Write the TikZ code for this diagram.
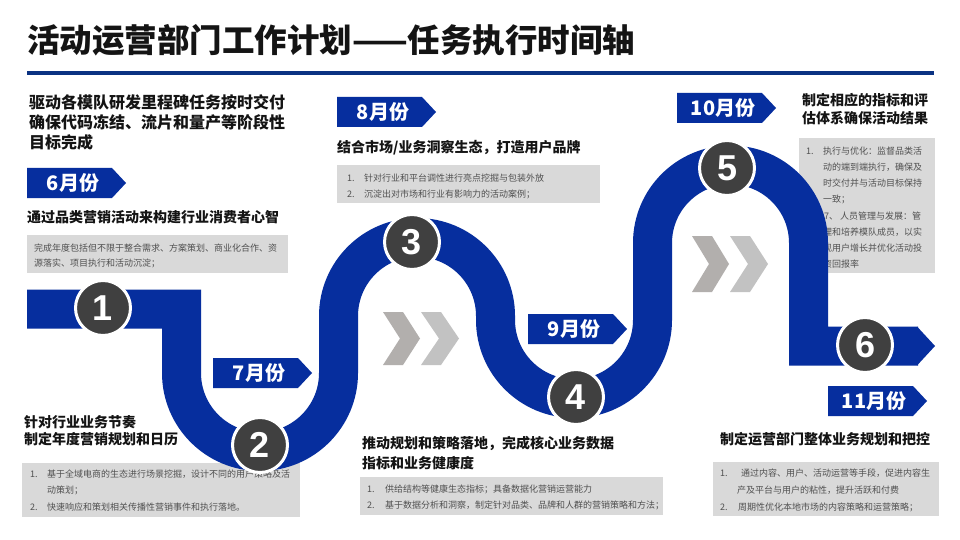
\documentclass[tikz,border=0pt]{standalone}
\usepackage{fontspec}
\setmainfont{Noto Sans CJK SC}
\newfontfamily\numfont{Liberation Sans}
\definecolor{bandc}{RGB}{6,46,158}
\definecolor{linec}{RGB}{10,50,130}
\definecolor{boxg}{RGB}{217,217,217}
\definecolor{boxtc}{RGB}{80,80,80}
\definecolor{headc}{RGB}{20,20,20}
\definecolor{circc}{RGB}{64,64,64}
\definecolor{chevA}{RGB}{178,175,173}
\definecolor{chevB}{RGB}{194,194,194}
\tikzset{
  hd/.style={anchor=base west, inner sep=0pt, text=headc, font=\bfseries\fontsize{14}{14}\selectfont},
  hdbig/.style={hd, font=\bfseries\fontsize{16}{16}\selectfont},
  bx/.style={anchor=base west, inner sep=0pt, text=boxtc, font=\fontsize{9}{9}\selectfont},
  gbox/.style={fill=boxg, draw=none},
  band/.style={draw=bandc, line width=39pt, line join=miter, line cap=butt},
  numc/.style={circle, fill=circc, draw=white, line width=3pt, minimum size=55pt, inner sep=0pt, text=white, font=\numfont\bfseries\fontsize{36}{36}\selectfont},
  mlbl/.style={text=white, inner sep=0pt, font=\bfseries\fontsize{20}{20}\selectfont},
}
\newcommand\monthtag[4]{%
  \begin{scope}[shift={(#2,#3)}]
    \fill[bandc] (0,0) -- (85,0) -- (99,15) -- (85,30) -- (0,30) -- cycle;
    \node[mlbl] (#1) at (46,15) {#4};
  \end{scope}}
\newcommand\chevpair[4]{%
  \begin{scope}[shift={(#1,#2)}]
    \fill[chevA] (0,0) -- (20,0) -- (37,#3) -- (20,#4) -- (0,#4) -- (17,#3) -- cycle;
    \fill[chevB] (38,0) -- (58,0) -- (76,#3) -- (58,#4) -- (38,#4) -- (56,#3) -- cycle;
  \end{scope}}
\begin{document}
\begin{tikzpicture}[x=1pt,y=-1pt]
\useasboundingbox (0,0) rectangle (960,540);
\fill[white] (0,0) rectangle (960,540);
% title
\node[anchor=base west, inner sep=0pt, text=headc, font=\bfseries\fontsize{32.5}{32.5}\selectfont] (title) at (27,52.3) {活动运营部门工作计划——任务执行时间轴};
\fill[linec] (27,71) rectangle (934,75);

% gray boxes
\fill[gbox] (27,235) rectangle (288,273);
\fill[gbox] (337,165) rectangle (600,203);
\fill[gbox] (799,138) rectangle (935,273);
\fill[gbox] (22,463) rectangle (300,517);
\fill[gbox] (360,477) rectangle (663,515);
\fill[gbox] (713,462) rectangle (939,516);

% headings
\node[hdbig] (h0a) at (29,109) {驱动各模队研发里程碑任务按时交付};
\node[hdbig] (h0b) at (29,129) {确保代码冻结、流片和量产等阶段性};
\node[hdbig] (h0c) at (29,149) {目标完成};
\node[hd] (h1) at (27,222) {通过品类营销活动来构建行业消费者心智};
\node[hd] (h3) at (337,153) {结合市场/业务洞察生态，打造用户品牌};
\node[hd] (h5a) at (802,105.3) {制定相应的指标和评};
\node[hd] (h5b) at (802,123.3) {估体系确保活动结果};
\node[hd] (h2a) at (24,427.3) {针对行业业务节奏};
\node[hd] (h2b) at (24,444.3) {制定年度营销规划和日历};
\node[hd] (h4a) at (362,448.3) {推动规划和策略落地，完成核心业务数据};
\node[hd] (h4b) at (362,468.3) {指标和业务健康度};
\node[hd] (h6) at (720,444.3) {制定运营部门整体业务规划和把控};

% box texts
\node[bx] (t1a) at (34,251.5) {完成年度包括但不限于整合需求、方案策划、商业化合作、资};
\node[bx] (t1b) at (34,266.5) {源落实、项目执行和活动沉淀；};

\node[bx] (n3a) at (347,181.5) {1.};
\node[bx] (t3a) at (364,181.5) {针对行业和平台调性进行亮点挖掘与包装外放};
\node[bx] (n3b) at (347,197.5) {2.};
\node[bx] (t3b) at (364,197.5) {沉淀出对市场和行业有影响力的活动案例；};

\node[bx] (n5a) at (806,154.4) {1.};
\node[bx] (t5a) at (823,154.4) {执行与优化：监督品类活};
\node[bx] (t5b) at (823,170.4) {动的端到端执行，确保及};
\node[bx] (t5c) at (823,186.4) {时交付并与活动目标保持};
\node[bx] (t5d) at (823,202.4) {一致；};
\node[bx] (t5e) at (824,219.4) {7、 人员管理与发展：管};
\node[bx] (t5f) at (823,235.4) {理和培养模队成员，以实};
\node[bx] (t5g) at (823,251.4) {现用户增长并优化活动投};
\node[bx] (t5h) at (823,267.4) {资回报率};

\node[bx] (n2a) at (30,477.4) {1.};
\node[bx] (t2a) at (47,477.4) {基于全域电商的生态进行场景挖掘，设计不同的用户策略及活};
\node[bx] (t2b) at (47,493.4) {动策划；};
\node[bx] (n2b) at (30,510.4) {2.};
\node[bx] (t2c) at (47,510.4) {快速响应和策划相关传播性营销事件和执行落地。};

\node[bx] (n4a) at (367,492.4) {1.};
\node[bx] (t4a) at (385,492.4) {供给结构等健康生态指标；具备数据化营销运营能力};
\node[bx] (n4b) at (367,508.4) {2.};
\node[bx] (t4b) at (385,508.4) {基于数据分析和洞察，制定针对品类、品牌和人群的营销策略和方法；};

\node[bx] (n6a) at (720,476.4) {1.};
\node[bx] (t6a) at (741,476.4) {通过内容、用户、活动运营等手段，促进内容生};
\node[bx] (t6b) at (737,493.4) {产及平台与用户的粘性，提升活跃和付费};
\node[bx] (n6b) at (720,510.4) {2.};
\node[bx] (t6c) at (738,510.4) {周期性优化本地市场的内容策略和运营策略；};

% the band
\draw[band] (27,309) -- (181.5,309) -- (181.5,373)
  arc[start angle=180, end angle=0, radius=78.5] -- (338.5,316)
  arc[start angle=180, end angle=360, radius=78.5] -- (495.5,320)
  arc[start angle=180, end angle=0, radius=78.5] -- (652.5,243)
  arc[start angle=180, end angle=360, radius=78] -- (808.5,346) -- (918,346);
\fill[bandc] (917,326.5) -- (935,346) -- (917,365.5) -- cycle;

% chevrons
\chevpair{383}{312}{26.5}{53}
\chevpair{692}{236}{28}{56}

% month tags
\monthtag{m6}{27}{168}{6月份}
\monthtag{m8}{337}{97}{8月份}
\monthtag{m10}{677}{93}{10月份}
\monthtag{m7}{213}{358}{7月份}
\monthtag{m9}{528}{314}{9月份}
\monthtag{m11}{828}{386}{11月份}

% numbered circles
\node[numc] (c1) at (103,308) {1};
\node[numc] (c2) at (260,445) {2};
\node[numc] (c3) at (412,242) {3};
\node[numc] (c4) at (576,397) {4};
\node[numc] (c5) at (727,168) {5};
\node[numc] (c6) at (865,345) {6};
\end{tikzpicture}
\end{document}
